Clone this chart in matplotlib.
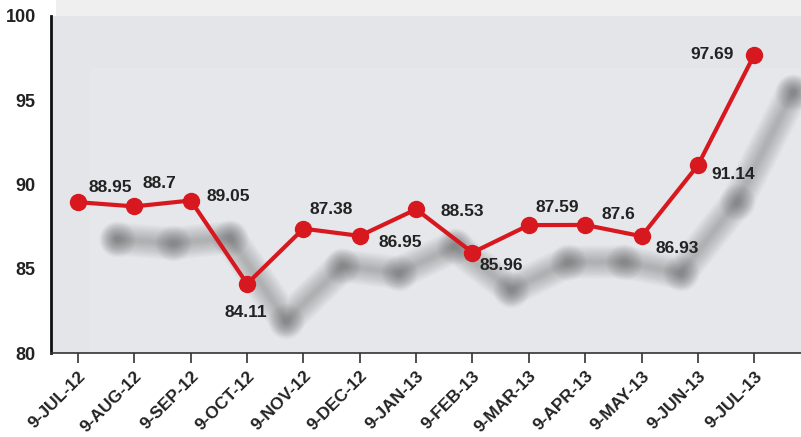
import matplotlib
matplotlib.use("Agg")
import matplotlib.pyplot as plt
import matplotlib.transforms as mtransforms
from matplotlib.patches import Rectangle
import numpy as np

months = ["9-JUL-12", "9-AUG-12", "9-SEP-12", "9-OCT-12", "9-NOV-12", "9-DEC-12",
          "9-JAN-13", "9-FEB-13", "9-MAR-13", "9-APR-13", "9-MAY-13", "9-JUN-13",
          "9-JUL-13"]
values = [88.95, 88.7, 89.05, 84.11, 87.38, 86.95, 88.53, 85.96, 87.59, 87.6,
          86.93, 91.14, 97.69]
labels = ["88.95", "88.7", "89.05", "84.11", "87.38", "86.95", "88.53", "85.96",
          "87.59", "87.6", "86.93", "91.14", "97.69"]

# label offsets in pixels (dx, dy)
label_offsets = [(32, 15), (25, 23), (38, 4), (-1, -29), (28, 19), (40, -7),
                 (46, -2), (29, -13), (28, 18), (33, 10), (36, -12), (35, -9),
                 (-42, 0)]

plt.rcParams["font.family"] = ["Liberation Sans", "DejaVu Sans"]
plt.rcParams["font.weight"] = "bold"

red = "#d7191f"
txt = "#222222"

fig = plt.figure(figsize=(8.01, 4.37), dpi=100)
fig.patch.set_facecolor("white")
# light band above the plot
fig.patches.append(Rectangle((0.07, 0.963), 0.93, 0.037, transform=fig.transFigure,
                             facecolor="#efefef", edgecolor="none", zorder=0))

ax = fig.add_axes([51 / 801, 84 / 437, 750 / 801, 337 / 437])
ax.set_facecolor("#e3e5e8")
ax.add_patch(Rectangle((0.052, 0), 0.95, 0.846, transform=ax.transAxes,
                       facecolor="#e5e7ea", edgecolor="none", zorder=0))

x = np.arange(len(values))

# blurred drop shadow
shadow = ax.transData + mtransforms.Affine2D().translate(39, -37)
for lw in np.linspace(3, 24, 12):
    ax.plot(x, values, color="#3a3a3a", lw=lw, alpha=0.028, transform=shadow,
            solid_capstyle="round", solid_joinstyle="round", zorder=1)
for ms in np.linspace(5, 26, 10):
    ax.plot(x, values, ls="none", marker="o", ms=ms, mec="none", color="#3a3a3a",
            alpha=0.035, transform=shadow, zorder=1)

ax.plot(x, values, color=red, lw=3, marker="o", ms=11.5, mec=red, mfc=red,
        zorder=3, solid_capstyle="round")

for xi, v, lab, (dx, dy) in zip(x, values, labels, label_offsets):
    ax.annotate(lab, (xi, v), xytext=(dx, dy), textcoords="offset pixels",
                ha="center", va="center", fontsize=12.5, fontweight="bold",
                color=txt, zorder=4)

ax.set_xlim(-0.48, 12.83)
ax.set_ylim(80, 100)
ax.set_yticks([80, 85, 90, 95, 100])
ax.set_xticks(x)
ax.set_xticklabels(months, rotation=45, ha="right", va="top",
                   rotation_mode="anchor", fontsize=12.5, fontweight="bold", color=txt)
ax.tick_params(axis="x", length=7, width=1.2, color="#333333", pad=4)
ax.tick_params(axis="y", length=0, pad=11, labelsize=13, labelcolor=txt)
for t in ax.get_yticklabels():
    t.set_fontweight("bold")

for s in ["top", "right"]:
    ax.spines[s].set_visible(False)
ax.spines["left"].set_color("#111111")
ax.spines["left"].set_linewidth(2)
ax.spines["bottom"].set_color("#333333")
ax.spines["bottom"].set_linewidth(1.2)

fig.savefig("out.png", dpi=100)
